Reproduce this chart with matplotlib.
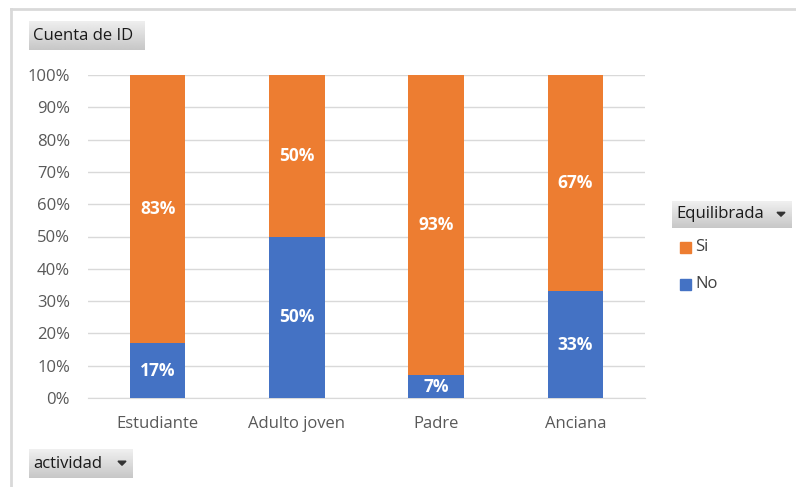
import matplotlib.pyplot as plt
import numpy as np
from matplotlib.patches import Rectangle
from matplotlib.lines import Line2D

categories = ["Estudiante", "Adulto joven", "Padre", "Anciana"]
no_vals = [17, 50, 7, 33]
si_vals = [83, 50, 93, 67]

W, H = 796, 487
ORANGE = "#ED7D31"
BLUE = "#4472C4"

plt.rcParams['font.family'] = ['Open Sans', 'DejaVu Sans']

fig = plt.figure(figsize=(W / 100, H / 100), dpi=100)
ax = fig.add_axes([88 / W, 1 - 398 / H, (645 - 88) / W, (398 - 75) / H])


def px_box(x0, y0, x1, y1):
    # convert pixel box (top-left origin) to figure fraction
    return [x0 / W, 1 - y1 / H, (x1 - x0) / W, (y1 - y0) / H]


def button(x0, y0, x1, y1, text, arrow=False):
    bax = fig.add_axes(px_box(x0, y0, x1, y1))
    grad = np.linspace(0.94, 0.78, 50).reshape(-1, 1)
    bax.imshow(grad, cmap="gray", vmin=0, vmax=1, aspect="auto",
               extent=[0, 1, 0, 1], origin="upper")
    bax.set_xlim(0, 1)
    bax.set_ylim(0, 1)
    bax.axis("off")
    bax.text(4 / (x1 - x0), 0.5, text, ha="left", va="center",
             fontsize=12, color="#1a1a1a")
    if arrow:
        cx = 1 - 11 / (x1 - x0)
        dx = 4 / (x1 - x0)
        bax.fill([cx - dx, cx + dx, cx], [0.58, 0.58, 0.44], color="#333333")


# outer border (top and left visible)
fig.add_artist(Line2D([11 / W, 11 / W], [1 - 486 / H, 1 - 9 / H],
                      transform=fig.transFigure, color="#D9D9D9", linewidth=2))
fig.add_artist(Line2D([11 / W, 1], [1 - 9 / H, 1 - 9 / H],
                      transform=fig.transFigure, color="#D9D9D9", linewidth=2))

x = np.arange(len(categories))
ax.bar(x, no_vals, width=0.4, color=BLUE, zorder=3)
ax.bar(x, si_vals, width=0.4, bottom=no_vals, color=ORANGE, zorder=3)

for i in range(len(categories)):
    ax.text(x[i], no_vals[i] / 2, f"{no_vals[i]}%", ha="center", va="center",
            color="white", fontsize=12.5, fontweight="bold", zorder=4)
    ax.text(x[i], no_vals[i] + si_vals[i] / 2, f"{si_vals[i]}%", ha="center",
            va="center", color="white", fontsize=12.5, fontweight="bold", zorder=4)

ax.set_xlim(-0.5, len(categories) - 0.5)
ax.set_ylim(0, 100)
ax.set_yticks(np.arange(0, 101, 10))
ax.set_yticklabels([f"{v}%" for v in range(0, 101, 10)])
ax.set_xticks(x)
ax.set_xticklabels(categories)
ax.tick_params(length=0, labelsize=12, labelcolor="#595959")
ax.tick_params(axis="y", pad=13)
ax.tick_params(axis="x", pad=13)
ax.grid(axis="y", color="#D9D9D9", linewidth=1, zorder=0)
for s in ["top", "right", "left"]:
    ax.spines[s].set_visible(False)
ax.spines["bottom"].set_color("#D9D9D9")

button(29, 21, 145, 50, "Cuenta de ID")
button(672, 201, 792, 228, "Equilibrada", arrow=True)
button(29, 449, 133, 478, "actividad", arrow=True)

# legend
fig.patches.append(Rectangle((680 / W, 1 - 253 / H), 11 / W, 11 / H,
                             transform=fig.transFigure, color=ORANGE))
fig.text(695 / W, 1 - 247 / H, "Si", va="center", fontsize=12, color="#404040")
fig.patches.append(Rectangle((680 / W, 1 - 290 / H), 11 / W, 11 / H,
                             transform=fig.transFigure, color=BLUE))
fig.text(695 / W, 1 - 284 / H, "No", va="center", fontsize=12, color="#404040")

fig.savefig("out.png", dpi=100)
